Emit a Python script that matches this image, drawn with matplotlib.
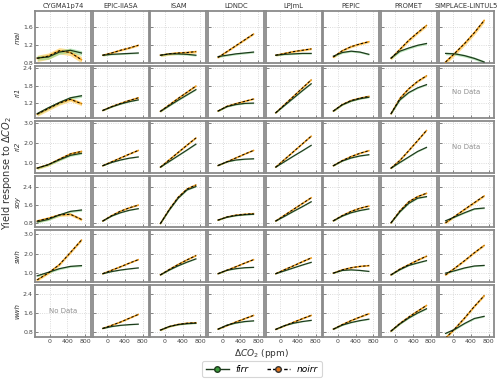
import matplotlib
matplotlib.use("Agg")
import matplotlib.pyplot as plt
from matplotlib.lines import Line2D
import numpy as np

MODELS = ["CYGMA1p74", "EPIC-IIASA", "ISAM", "LDNDC", "LPJmL", "PEPIC", "PROMET", "SIMPLACE-LINTUL5"]
CROPS = ["mai", "ri1", "ri2", "soy", "swh", "wwh"]

# x positions (ΔCO2, ppm) at which curves were read
X_STD = [-100, 100, 300, 500, 700]
X_CYGMA = [-280, -30, 220, 470, 720]
X_SIMPLACE = [-170, 45, 260, 480, 700]

MAI_FIRR = {"CYGMA1p74": [0.91, 0.93, 1.04, 1.08, 1.02], "EPIC-IIASA": [0.97, 0.99, 1.00, 1.01, 1.02],
            "ISAM": [0.97, 1.00, 1.00, 0.99, 0.97], "LDNDC": [0.94, 0.97, 1.00, 1.02, 1.04],
            "LPJmL": [0.97, 0.99, 1.00, 1.01, 1.01], "PEPIC": [0.95, 1.03, 1.06, 1.04, 0.99],
            "PROMET": [0.91, 1.06, 1.13, 1.19, 1.23], "SIMPLACE-LINTUL5": [1.01, 1.00, 0.96, 0.90, 0.82]}
MAI_NOIRR = {"CYGMA1p74": [0.90, 0.95, 1.07, 1.03, 0.87], "EPIC-IIASA": [0.97, 1.02, 1.08, 1.13, 1.19],
             "ISAM": [0.97, 1.00, 1.02, 1.03, 1.05], "LDNDC": [0.92, 1.05, 1.18, 1.31, 1.44],
             "LPJmL": [0.97, 1.01, 1.05, 1.08, 1.11], "PEPIC": [0.93, 1.07, 1.16, 1.22, 1.27],
             "PROMET": [0.90, 1.10, 1.30, 1.47, 1.63], "SIMPLACE-LINTUL5": [0.82, 1.02, 1.23, 1.47, 1.74]}

RI1_FIRR = {"CYGMA1p74": [0.84, 1.04, 1.22, 1.38, 1.45], "EPIC-IIASA": [0.95, 1.07, 1.17, 1.25, 1.31],
            "ISAM": [0.92, 1.11, 1.30, 1.48, 1.66], "LDNDC": [0.93, 1.08, 1.15, 1.19, 1.20],
            "LPJmL": [0.87, 1.12, 1.37, 1.62, 1.86], "PEPIC": [0.93, 1.14, 1.27, 1.35, 1.40],
            "PROMET": [0.84, 1.31, 1.56, 1.72, 1.83], "SIMPLACE-LINTUL5": None}
RI1_NOIRR = {"CYGMA1p74": [0.82, 1.01, 1.20, 1.33, 1.18], "EPIC-IIASA": [0.95, 1.08, 1.19, 1.29, 1.38],
             "ISAM": [0.92, 1.14, 1.36, 1.57, 1.78], "LDNDC": [0.93, 1.09, 1.18, 1.26, 1.34],
             "LPJmL": [0.87, 1.15, 1.43, 1.71, 1.99], "PEPIC": [0.93, 1.15, 1.29, 1.37, 1.43],
             "PROMET": [0.84, 1.36, 1.69, 1.94, 2.13], "SIMPLACE-LINTUL5": None}

RI2_FIRR = {"CYGMA1p74": [0.77, 0.94, 1.18, 1.40, 1.50], "EPIC-IIASA": [0.89, 1.05, 1.17, 1.26, 1.32],
            "ISAM": [0.82, 1.10, 1.38, 1.66, 1.95], "LDNDC": [0.90, 1.08, 1.17, 1.21, 1.23],
            "LPJmL": [0.82, 1.09, 1.36, 1.62, 1.89], "PEPIC": [0.89, 1.12, 1.27, 1.37, 1.43],
            "PROMET": [0.77, 1.05, 1.32, 1.59, 1.79], "SIMPLACE-LINTUL5": None}
RI2_NOIRR = {"CYGMA1p74": [0.77, 0.94, 1.21, 1.47, 1.59], "EPIC-IIASA": [0.89, 1.08, 1.27, 1.46, 1.64],
             "ISAM": [0.82, 1.18, 1.54, 1.90, 2.25], "LDNDC": [0.90, 1.08, 1.27, 1.46, 1.64],
             "LPJmL": [0.82, 1.20, 1.58, 1.96, 2.34], "PEPIC": [0.89, 1.14, 1.34, 1.50, 1.63],
             "PROMET": [0.77, 1.15, 1.63, 2.12, 2.62], "SIMPLACE-LINTUL5": None}

SOY_FIRR = {"CYGMA1p74": [0.84, 0.95, 1.15, 1.31, 1.37], "EPIC-IIASA": [0.88, 1.10, 1.25, 1.36, 1.43],
            "ISAM": [0.77, 1.37, 1.90, 2.27, 2.42], "LDNDC": [0.92, 1.05, 1.12, 1.16, 1.18],
            "LPJmL": [0.88, 1.09, 1.31, 1.52, 1.74], "PEPIC": [0.89, 1.10, 1.25, 1.35, 1.42],
            "PROMET": [0.80, 1.29, 1.67, 1.90, 1.97], "SIMPLACE-LINTUL5": [0.89, 1.07, 1.25, 1.42, 1.46]}
SOY_NOIRR = {"CYGMA1p74": [0.88, 1.00, 1.15, 1.18, 0.95], "EPIC-IIASA": [0.88, 1.12, 1.32, 1.47, 1.59],
             "ISAM": [0.77, 1.40, 1.94, 2.31, 2.49], "LDNDC": [0.92, 1.06, 1.14, 1.18, 1.21],
             "LPJmL": [0.88, 1.14, 1.40, 1.66, 1.92], "PEPIC": [0.89, 1.12, 1.31, 1.45, 1.55],
             "PROMET": [0.80, 1.33, 1.74, 1.97, 2.12], "SIMPLACE-LINTUL5": [0.80, 1.10, 1.40, 1.70, 2.00]}

SWH_FIRR = {"CYGMA1p74": [0.84, 1.02, 1.21, 1.33, 1.37], "EPIC-IIASA": [0.95, 1.06, 1.14, 1.20, 1.25],
            "ISAM": [0.89, 1.14, 1.36, 1.55, 1.72], "LDNDC": [0.95, 1.13, 1.21, 1.26, 1.28],
            "LPJmL": [0.95, 1.10, 1.25, 1.40, 1.54], "PEPIC": [0.98, 1.12, 1.15, 1.12, 1.07],
            "PROMET": [0.89, 1.16, 1.38, 1.51, 1.63], "SIMPLACE-LINTUL5": [0.98, 1.11, 1.25, 1.35, 1.38]}
SWH_NOIRR = {"CYGMA1p74": [0.63, 0.98, 1.42, 2.05, 2.70], "EPIC-IIASA": [0.95, 1.13, 1.31, 1.50, 1.68],
             "ISAM": [0.89, 1.17, 1.43, 1.67, 1.89], "LDNDC": [0.95, 1.13, 1.31, 1.50, 1.68],
             "LPJmL": [0.95, 1.16, 1.36, 1.57, 1.77], "PEPIC": [0.98, 1.15, 1.26, 1.33, 1.37],
             "PROMET": [0.89, 1.19, 1.42, 1.65, 1.86], "SIMPLACE-LINTUL5": [0.89, 1.25, 1.63, 2.04, 2.42]}

WWH_FIRR = {"CYGMA1p74": None, "EPIC-IIASA": [0.94, 1.02, 1.07, 1.10, 1.12],
            "ISAM": [0.87, 1.02, 1.10, 1.14, 1.16], "LDNDC": [0.91, 1.08, 1.17, 1.23, 1.26],
            "LPJmL": [0.90, 1.06, 1.16, 1.23, 1.28], "PEPIC": [0.91, 1.08, 1.19, 1.27, 1.33],
            "PROMET": [0.83, 1.13, 1.38, 1.59, 1.77], "SIMPLACE-LINTUL5": [0.73, 0.91, 1.15, 1.36, 1.45]}
WWH_NOIRR = {"CYGMA1p74": None, "EPIC-IIASA": [0.94, 1.07, 1.21, 1.37, 1.53],
             "ISAM": [0.87, 1.02, 1.11, 1.16, 1.18], "LDNDC": [0.91, 1.06, 1.21, 1.35, 1.49],
             "LPJmL": [0.90, 1.05, 1.20, 1.35, 1.49], "PEPIC": [0.91, 1.10, 1.27, 1.42, 1.56],
             "PROMET": [0.83, 1.15, 1.42, 1.67, 1.91], "SIMPLACE-LINTUL5": [0.53, 0.94, 1.38, 1.87, 2.32]}

# approximate half-width of the shaded spread around each curve
BAND_FIRR = [0.05, 0.015, 0.02, 0.02, 0.015, 0.02, 0.025, 0.03]
BAND_NOIRR = [0.07, 0.02, 0.03, 0.02, 0.02, 0.025, 0.035, 0.05]

YLIMS = [(0.8, 1.95), (0.7, 2.47), (0.55, 3.1), (0.59, 2.91), (0.5, 3.2), (0.57, 2.76)]
YTICKS = [[0.8, 1.2, 1.6], [1.2, 1.8, 2.4], [1.0, 2.0, 3.0], [0.8, 1.6, 2.4], [1.0, 2.0, 3.0], [0.8, 1.6, 2.4]]
XTICKS = [0, 400, 800]

FIRR = [MAI_FIRR, RI1_FIRR, RI2_FIRR, SOY_FIRR, SWH_FIRR, WWH_FIRR]
NOIRR = [MAI_NOIRR, RI1_NOIRR, RI2_NOIRR, SOY_NOIRR, SWH_NOIRR, WWH_NOIRR]

SPINE = "#8a8a8a"
GREEN_LINE = "#1d3b1d"
GREEN_BAND = "#86d486"
ORANGE_LINE = "#eb9a1c"
ORANGE_BAND = "#ffd573"

fig, axes = plt.subplots(6, 8, figsize=(5.0, 3.81), dpi=100, sharex=True, sharey="row")
fig.subplots_adjust(left=0.07, right=0.989, top=0.971, bottom=0.115, wspace=0.03, hspace=0.058)

for r, crop in enumerate(CROPS):
    for c, model in enumerate(MODELS):
        ax = axes[r, c]
        ax.set_xlim(-330, 935)
        ax.set_ylim(*YLIMS[r])
        ax.set_yticks(YTICKS[r])
        ax.set_xticks(XTICKS)
        ax.grid(True, color="#d0d0d0", linestyle=":", linewidth=0.6)
        ax.set_axisbelow(True)
        for s in ax.spines.values():
            s.set_color(SPINE)
            s.set_linewidth(1.3)
        ax.tick_params(direction="in", length=2, width=0.5, color="#555555",
                       labelsize=4.5, labelcolor="#444444", pad=1.5)
        if model == "CYGMA1p74":
            xs = np.array(X_CYGMA)
        elif model == "SIMPLACE-LINTUL5":
            xs = np.array(X_SIMPLACE)
        else:
            xs = np.array(X_STD)
        yf = FIRR[r][model]
        yn = NOIRR[r][model]
        if yf is None:
            ax.text(0.5, 0.5, "No Data", transform=ax.transAxes, ha="center", va="center",
                    fontsize=5, color="#909090")
        else:
            yf = np.array(yf)
            yn = np.array(yn)
            bf = BAND_FIRR[c]
            bn = BAND_NOIRR[c]
            ax.fill_between(xs, yn - bn, yn + bn, color=ORANGE_BAND, alpha=0.75, lw=0, zorder=2)
            ax.fill_between(xs, yf - bf, yf + bf, color=GREEN_BAND, alpha=0.55, lw=0, zorder=2)
            ax.plot(xs, yn, color=ORANGE_LINE, lw=1.1, zorder=3)
            ax.plot(xs, yf, color=GREEN_LINE, lw=0.9, zorder=4)
            ax.plot(xs, yn, color="black", lw=0.7, ls=(0, (2.5, 2)), zorder=5)
        if r == 0:
            ax.set_title(model, fontsize=4.9, color="#333333", pad=2.5)
        if c == 0:
            ax.set_ylabel(crop, fontsize=5, style="italic", color="#333333", labelpad=1.5)
            ax.yaxis.set_major_formatter(matplotlib.ticker.FormatStrFormatter("%.1f"))

fig.text(0.014, 0.545, "Yield response to $\\Delta CO_2$", rotation=90, ha="center", va="center",
         fontsize=7, color="#333333")
fig.text(0.524, 0.071, "$\\Delta CO_2$ (ppm)", ha="center", va="center", fontsize=6.5, color="#333333")

handles = [
    Line2D([], [], color=GREEN_LINE, lw=1.0, marker="o", markersize=4,
           markerfacecolor="#3c9a3c", markeredgecolor="#1d3b1d"),
    Line2D([], [], color="black", lw=1.0, ls=(0, (2.5, 1.5)), marker="o", markersize=4,
           markerfacecolor="#e0741c", markeredgecolor="#333333"),
]
leg = fig.legend(handles, ["firr", "noirr"], loc="center", bbox_to_anchor=(0.524, 0.031), ncol=2,
                 frameon=True, handlelength=2.5, columnspacing=2.0,
                 prop={"style": "italic", "size": 6.5})
leg.get_frame().set_edgecolor("#cccccc")
leg.get_frame().set_linewidth(0.8)

fig.savefig("out.png", dpi=100)
